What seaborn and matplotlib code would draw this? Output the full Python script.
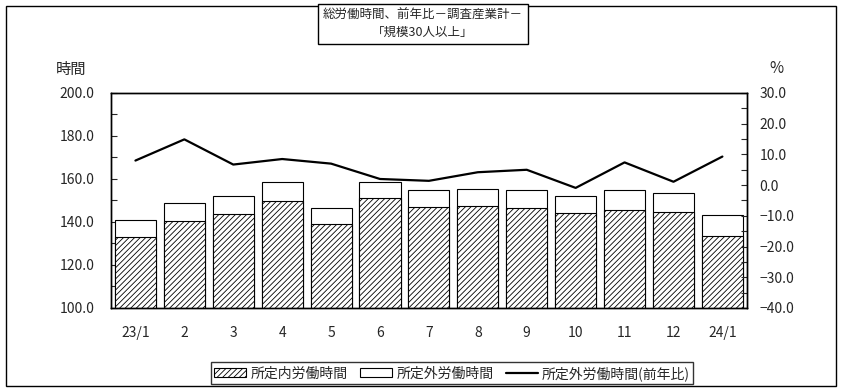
import numpy as np
import pandas as pd
import matplotlib.pyplot as plt
import matplotlib.patches as mpatches
from matplotlib.lines import Line2D
import seaborn as sns

# 月ラベル
months = ['23/1', '2', '3', '4', '5', '6', '7', '8', '9', '10', '11', '12', '24/1']
# 所定内労働時間
scheduled = [133.0, 140.3, 143.6, 149.6, 138.9, 151.0, 146.9, 147.3, 146.4, 144.0, 145.4, 144.5, 133.5]
# 所定外労働時間
overtime = [7.9, 8.4, 8.3, 8.9, 7.5, 7.5, 8.0, 7.9, 8.5, 7.9, 9.5, 8.8, 9.6]
# 所定外労働時間(前年比)
overtime_yoy = [8.0, 14.9, 6.7, 8.5, 7.0, 2.0, 1.4, 4.2, 5.0, -0.9, 7.4, 1.1, 9.3]

df = pd.DataFrame({'month': months, 'scheduled': scheduled, 'overtime': overtime})
df['total'] = df['scheduled'] + df['overtime']

sns.set_style('white')
plt.rcParams['font.family'] = ['Noto Sans CJK JP', 'DejaVu Sans']
plt.rcParams['hatch.linewidth'] = 0.6
plt.rcParams['font.size'] = 10

fig = plt.figure(figsize=(8.42, 3.92), dpi=100)
ax = fig.add_axes([0.1318, 0.2143, 0.7552, 0.5485])

# 合計（白）の上に所定内（斜線）を重ねる
sns.barplot(data=df, x='month', y='total', color='white', edgecolor='black',
            linewidth=0.8, width=0.84, saturation=1, ax=ax)
sns.barplot(data=df, x='month', y='scheduled', color='white', edgecolor='black',
            linewidth=0.8, width=0.84, saturation=1, hatch='//////', ax=ax)

ax.set_ylim(100, 200)
ax.set_yticks(np.arange(100, 201, 20))
ax.set_yticks(np.arange(100, 201, 10), minor=True)
ax.set_yticklabels([f'{v:.1f}' for v in np.arange(100, 201, 20)])
ax.set_xlim(-0.5, len(months) - 0.5)
ax.set_xlabel('')
ax.set_ylabel('')
ax.tick_params(axis='y', which='both', direction='in', length=4, width=0.8, pad=12, left=True)
ax.tick_params(axis='x', length=0, pad=13)

ax2 = ax.twinx()
sns.lineplot(x=np.arange(len(months)), y=overtime_yoy, color='black', linewidth=1.6, ax=ax2)
ax2.set_ylim(-40, 30)
ax2.set_yticks(np.arange(-40, 31, 10))
ax2.set_yticks(np.arange(-40, 31, 5), minor=True)
ax2.set_yticklabels([f'{v:.1f}'.replace('-', '\u2212') for v in np.arange(-40, 31, 10)])
ax2.tick_params(axis='y', which='both', direction='in', length=4, width=0.8, pad=9, right=True)

for a in (ax, ax2):
    for s in a.spines.values():
        s.set_visible(True)
        s.set_color('black')
        s.set_linewidth(1.0)

fig.text(0.084, 0.823, '時間', ha='center', va='center', fontsize=11)
fig.text(0.922, 0.826, '%', ha='center', va='center', fontsize=11)

# 外枠
fig.patches.append(mpatches.Rectangle((0.0071, 0.0153), 0.9857, 0.969, transform=fig.transFigure,
                                      fill=False, edgecolor='black', linewidth=1.0))

fig.text(0.5018, 0.939, '総労働時間、前年比－調査産業計－\n「規模30人以上」', ha='center', va='center',
         fontsize=9, linespacing=1.35,
         bbox=dict(boxstyle='square,pad=0.4', facecolor='white', edgecolor='black', linewidth=1.0))

handles = [
    mpatches.Patch(facecolor='white', edgecolor='black', hatch='//////', linewidth=0.8),
    mpatches.Patch(facecolor='white', edgecolor='black', linewidth=0.8),
    Line2D([0], [0], color='black', linewidth=1.6),
]
labels = ['所定内労働時間', '所定外労働時間', '所定外労働時間(前年比)']
leg = fig.legend(handles, labels, loc='lower center', bbox_to_anchor=(0.537, 0.02), ncol=3,
                 frameon=True, fancybox=False, edgecolor='black', fontsize=10,
                 handlelength=2.3, handleheight=0.6, handletextpad=0.3, columnspacing=0.9,
                 borderpad=0.25, borderaxespad=0)
leg.get_frame().set_linewidth(1.0)

fig.savefig('out.png', dpi=100)
